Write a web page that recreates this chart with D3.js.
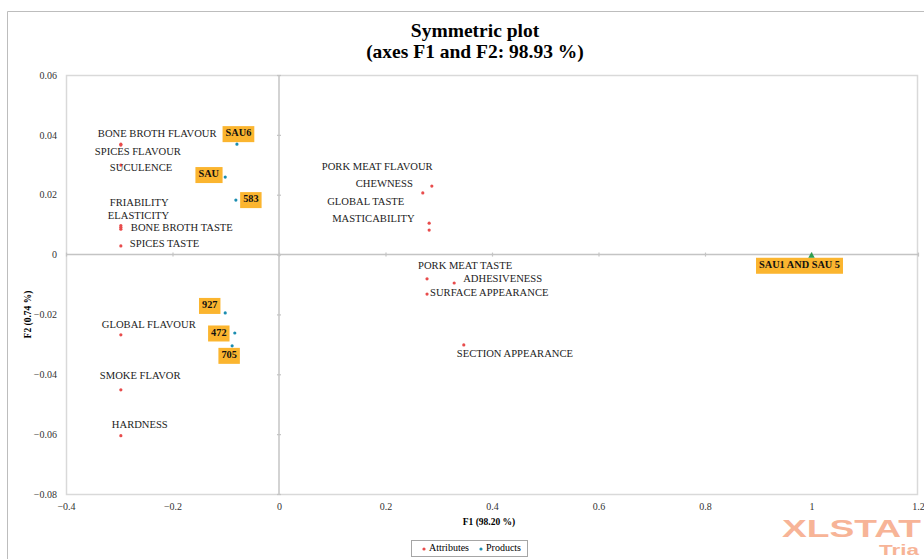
<!DOCTYPE html>
<html>
<head>
<meta charset="utf-8">
<script src="https://cdn.jsdelivr.net/npm/d3@7"></script>
<style>
  html, body { margin: 0; padding: 0; background: #fff; }
  svg { display: block; }
  text { font-family: "Liberation Serif", "Times New Roman", serif; }
  text.mark { font-family: "Liberation Sans", Arial, sans-serif; }
</style>
</head>
<body>
<svg id="chart" width="924" height="559"></svg>
<script>
// Attribute coordinates on F1 / F2
const attrNames = ["BONE BROTH FLAVOUR", "SPICES FLAVOUR", "SUCULENCE", "FRIABILITY", "ELASTICITY",
  "BONE BROTH TASTE", "SPICES TASTE", "GLOBAL FLAVOUR", "SMOKE FLAVOR", "HARDNESS",
  "PORK MEAT FLAVOUR", "CHEWNESS", "GLOBAL TASTE", "MASTICABILITY", "PORK MEAT TASTE",
  "ADHESIVENESS", "SURFACE APPEARANCE", "SECTION APPEARANCE"];
const attrF1 = [-0.297, -0.297, -0.297, -0.297, -0.297, -0.297, -0.297, -0.297, -0.297, -0.297,
  0.287, 0.270, 0.282, 0.282, 0.278, 0.329, 0.278, 0.347];
const attrF2 = [0.0369, 0.0366, 0.0299, 0.0097, 0.0085, 0.0091, 0.0029, -0.0268, -0.0452, -0.0605,
  0.0229, 0.0206, 0.0105, 0.0082, -0.0081, -0.0095, -0.0132, -0.0302];

// Product coordinates on F1 / F2
const prodNames = ["SAU6", "SAU", "583", "927", "472", "705", "SAU1 AND SAU 5"];
const prodF1 = [-0.079, -0.101, -0.081, -0.101, -0.083, -0.088, 1.0];
const prodF2 = [0.0369, 0.0259, 0.0182, -0.0195, -0.0262, -0.0305, -0.0004];

// Axis ticks
const xTicks = [-0.4, -0.2, 0, 0.2, 0.4, 0.6, 0.8, 1, 1.2];
const yTicks = [0.06, 0.04, 0.02, 0, -0.02, -0.04, -0.06, -0.08];

// Label placement (pixel offsets of each label from its point)
const attrLabelOffset = [[-23, -10], [-26, 8], [-11, 3], [-11, -22], [-13, -13], [10, 1], [9, -1],
  [-19, -9], [-21, -13], [-9, -10], [-110, -18], [-67, -8], [-102, -21], [-97, -10],
  [-9, -12], [9, -3], [3, -1], [-7, 10]];
const prodLabelOffset = [[1.5, -10], [-16.5, -2], [15, 0], [-15.5, -7], [-16, 0.5], [-3, 10], [-12, 10]];

const svg = d3.select("#chart");
const W = 924, H = 559;
const plot = { left: 66, right: 918, top: 75, bottom: 494 };

const x = d3.scaleLinear().domain([-0.4, 1.2]).range([plot.left, plot.right]);
const y = d3.scaleLinear().domain([-0.08, 0.06]).range([plot.bottom, plot.top]);

const attrColor = "#e84c4c";
const prodColor = "#1b8db0";
const boxColor = "#fbb52f";

// Outer chart border
svg.append("path")
  .attr("d", `M7.5,${H} V11.5 H${W}`)
  .attr("fill", "none").attr("stroke", "#bdbdbd").attr("stroke-width", 1);

// Title
const title = svg.append("text")
  .attr("text-anchor", "middle")
  .attr("font-weight", "bold").attr("font-size", 19.5);
title.append("tspan").attr("x", 475).attr("y", 37).text("Symmetric plot");
title.append("tspan").attr("x", 475).attr("y", 58).text("(axes F1 and F2: 98.93 %)");

// Plot frame
svg.append("rect")
  .attr("x", plot.left + 0.5).attr("y", plot.top + 0.5)
  .attr("width", plot.right - plot.left - 1).attr("height", plot.bottom - plot.top)
  .attr("fill", "none").attr("stroke", "#d9d9d9").attr("stroke-width", 1.5);

// Zero lines with tick marks
const zeroColor = "#c4c4c4";
svg.append("line")
  .attr("x1", x(0)).attr("x2", x(0)).attr("y1", plot.top).attr("y2", plot.bottom)
  .attr("stroke", zeroColor).attr("stroke-width", 1.5);
svg.append("line")
  .attr("x1", plot.left).attr("x2", plot.right).attr("y1", y(0)).attr("y2", y(0))
  .attr("stroke", zeroColor).attr("stroke-width", 1.5);

const yAxisZero = d3.axisLeft(y).tickValues(yTicks).tickSize(4).tickFormat("");
svg.append("g").attr("transform", `translate(${x(0) + 2},0)`).call(yAxisZero)
  .call(g => g.select(".domain").remove())
  .call(g => g.selectAll("line").attr("stroke", zeroColor).attr("stroke-width", 1.2));
const xAxisZero = d3.axisBottom(x).tickValues(xTicks).tickSize(4).tickFormat("");
svg.append("g").attr("transform", `translate(0,${y(0) - 2})`).call(xAxisZero)
  .call(g => g.select(".domain").remove())
  .call(g => g.selectAll("line").attr("stroke", zeroColor).attr("stroke-width", 1.2));

// Tick labels on the frame
const fmt = v => (v === 0 ? "0" : d3.format("")(+v.toFixed(2)));
const yAxis = d3.axisLeft(y).tickValues(yTicks).tickSize(0).tickPadding(9).tickFormat(fmt);
svg.append("g").attr("transform", `translate(${plot.left},0)`).call(yAxis)
  .call(g => g.select(".domain").remove())
  .call(g => g.selectAll("text").attr("font-size", 10).attr("fill", "#333"));
const xAxis = d3.axisBottom(x).tickValues(xTicks).tickSize(0).tickPadding(9).tickFormat(fmt);
svg.append("g").attr("transform", `translate(0,${plot.bottom})`).call(xAxis)
  .call(g => g.select(".domain").remove())
  .call(g => g.selectAll("text").attr("font-size", 10).attr("fill", "#333"));

// Axis titles
svg.append("text")
  .attr("x", 489).attr("y", 525).attr("text-anchor", "middle")
  .attr("font-weight", "bold").attr("font-size", 9.5).text("F1 (98.20 %)");
svg.append("text")
  .attr("transform", `translate(31,${(plot.top + plot.bottom) / 2 + 30}) rotate(-90)`)
  .attr("text-anchor", "middle")
  .attr("font-weight", "bold").attr("font-size", 9.5).text("F2 (0.74 %)");

// Attribute points and labels
const attrs = attrNames.map((n, i) => ({ name: n, f1: attrF1[i], f2: attrF2[i], off: attrLabelOffset[i] }));
svg.append("g").selectAll("circle").data(attrs).join("circle")
  .attr("cx", d => x(d.f1)).attr("cy", d => y(d.f2)).attr("r", 1.6).attr("fill", attrColor);
svg.append("g").selectAll("text").data(attrs).join("text")
  .attr("x", d => x(d.f1) + d.off[0]).attr("y", d => y(d.f2) + d.off[1])
  .attr("dominant-baseline", "middle")
  .attr("font-size", 10.6).attr("fill", "#222").text(d => d.name);

// Product points and boxed labels
const prods = prodNames.map((n, i) => ({ name: n, f1: prodF1[i], f2: prodF2[i], off: prodLabelOffset[i] }));
const prodLabels = svg.append("g").selectAll("g").data(prods).join("g")
  .attr("transform", d => `translate(${x(d.f1) + d.off[0]},${y(d.f2) + d.off[1]})`);
prodLabels.append("text")
  .attr("text-anchor", "middle").attr("dominant-baseline", "middle")
  .attr("font-weight", "bold").attr("font-size", 10.3).attr("fill", "#111")
  .text(d => d.name)
  .each(function () {
    const b = this.getBBox();
    d3.select(this.parentNode).insert("rect", "text")
      .attr("x", b.x - 3).attr("y", -8).attr("width", b.width + 6).attr("height", 16)
      .attr("fill", boxColor);
  });
svg.append("g").selectAll("path").data(prods).join("path")
  .attr("transform", d => `translate(${x(d.f1)},${y(d.f2)})`)
  .attr("d", d => d.name.includes("AND")
    ? d3.symbol(d3.symbolTriangle, 18)()
    : d3.symbol(d3.symbolCircle, 8)())
  .attr("fill", d => d.name.includes("AND") ? "#2e9e4f" : prodColor);

// Legend
const lg = svg.append("g").attr("transform", "translate(411,540)");
lg.append("rect").attr("x", 0.5).attr("y", 0.5).attr("width", 116).attr("height", 16)
  .attr("fill", "#fff").attr("stroke", "#a6a6a6");
lg.append("circle").attr("cx", 13).attr("cy", 9).attr("r", 1.6).attr("fill", attrColor);
lg.append("text").attr("x", 18).attr("y", 9).attr("dominant-baseline", "middle")
  .attr("font-size", 10).text("Attributes");
lg.append("circle").attr("cx", 70).attr("cy", 9).attr("r", 1.6).attr("fill", prodColor);
lg.append("text").attr("x", 75).attr("y", 9).attr("dominant-baseline", "middle")
  .attr("font-size", 10).text("Products");

// Software watermark
svg.append("text").attr("class", "mark").attr("x", 782).attr("y", 537)
  .attr("font-weight", "bold").attr("font-size", 24).attr("fill", "#f7b497")
  .attr("textLength", 139).attr("lengthAdjust", "spacingAndGlyphs").text("XLSTAT");
svg.append("text").attr("class", "mark").attr("x", 879).attr("y", 555)
  .attr("font-weight", "bold").attr("font-size", 15).attr("fill", "#f7b497")
  .attr("textLength", 40).attr("lengthAdjust", "spacingAndGlyphs").text("Tria");
</script>
</body>
</html>
